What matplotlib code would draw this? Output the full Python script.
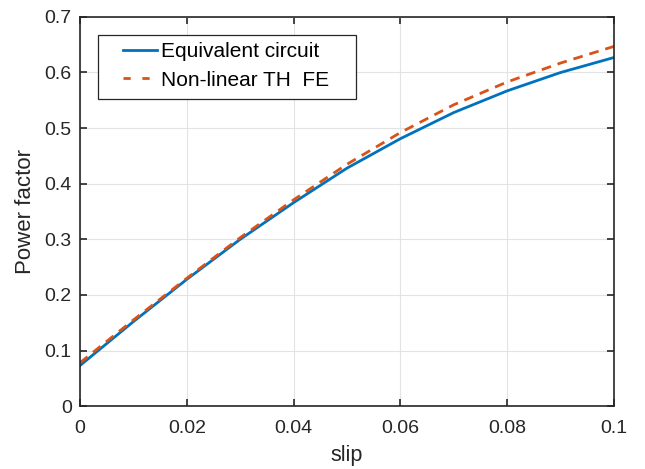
import numpy as np
import matplotlib.pyplot as plt
from matplotlib.lines import Line2D
from matplotlib.patches import Rectangle
from matplotlib.ticker import FixedLocator, FixedFormatter

plt.rcParams['font.family'] = ['Liberation Sans', 'DejaVu Sans']

# values
slip = [0, 0.01, 0.02, 0.03, 0.04, 0.05, 0.06, 0.07, 0.08, 0.09, 0.1]
pf_circuit = [0.073, 0.152, 0.228, 0.300, 0.366, 0.428, 0.481, 0.528, 0.567, 0.600, 0.627]
pf_fe = [0.078, 0.155, 0.230, 0.303, 0.371, 0.435, 0.492, 0.542, 0.583, 0.617, 0.647]

xticks = [0, 0.02, 0.04, 0.06, 0.08, 0.1]
xlabels = ['0', '0.02', '0.04', '0.06', '0.08', '0.1']
yticks = [0, 0.1, 0.2, 0.3, 0.4, 0.5, 0.6, 0.7]
ylabels = ['0', '0.1', '0.2', '0.3', '0.4', '0.5', '0.6', '0.7']

blue = '#0072BD'
orange = '#D95319'

fig = plt.figure(figsize=(6.45, 4.69), dpi=100)
ax = fig.add_axes([0.124, 0.134, 0.828, 0.830])

ax.plot(slip, pf_circuit, color=blue, lw=2)
ax.plot(slip, pf_fe, color=orange, lw=2, ls=(0, (3.5, 2.5)))

ax.set_xlim(0, 0.1)
ax.set_ylim(0, 0.7)
ax.xaxis.set_major_locator(FixedLocator(xticks))
ax.xaxis.set_major_formatter(FixedFormatter(xlabels))
ax.yaxis.set_major_locator(FixedLocator(yticks))
ax.yaxis.set_major_formatter(FixedFormatter(ylabels))
ax.tick_params(direction='in', top=True, right=True, length=5, width=1.2,
               labelsize=14, colors='#262626', pad=6)
ax.tick_params(axis='x', pad=10)
for s in ax.spines.values():
    s.set_linewidth(1.2)
    s.set_color('#262626')
ax.grid(True, color='#e3e3e3', lw=0.8)
ax.set_axisbelow(True)

ax.set_xlabel('slip', fontsize=15.5, color='#262626', labelpad=6)
ax.set_ylabel('Power factor', fontsize=16, color='#262626', labelpad=6)

# legend box drawn separately, MATLAB style padding
ax.add_patch(Rectangle((0.034, 0.789), 0.483, 0.165, transform=ax.transAxes,
                       facecolor='white', edgecolor='#262626', lw=0.9, zorder=4))
handles = [Line2D([], [], color=blue, lw=2),
           Line2D([], [], color=orange, lw=2, ls=(0, (2.6, 4.2)))]
leg = ax.legend(handles, ['Equivalent circuit', 'Non-linear TH  FE'],
                loc='upper left', bbox_to_anchor=(0.08, 0.935), fontsize=15,
                frameon=False, handlelength=1.65, handletextpad=0.2,
                borderpad=0, labelspacing=0.45, borderaxespad=0)
leg.set_zorder(5)

fig.savefig('out.png', dpi=100)
